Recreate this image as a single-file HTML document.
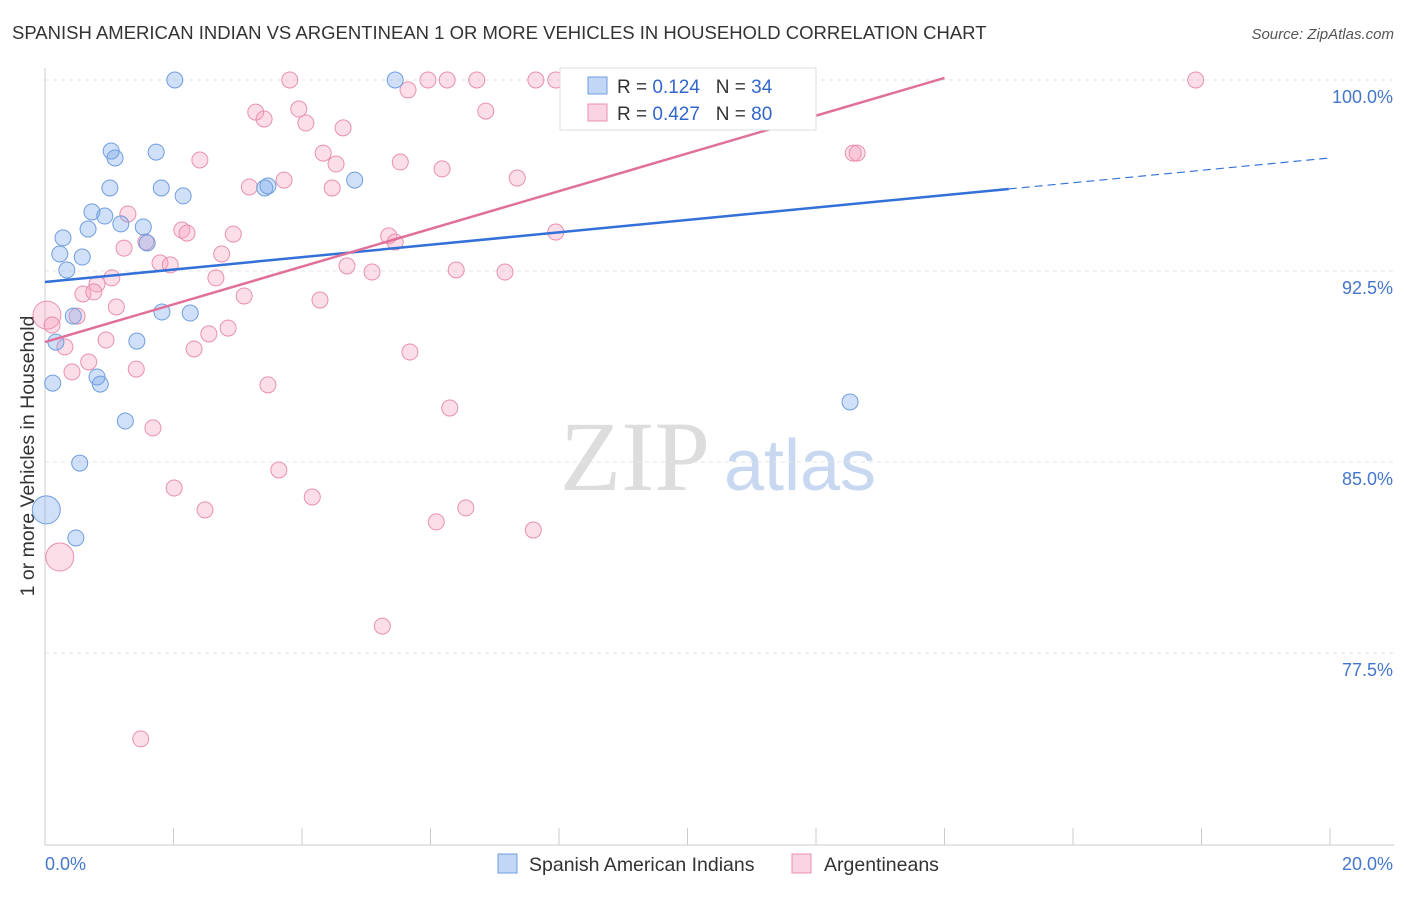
<!DOCTYPE html>
<html><head><meta charset="utf-8"><style>
body{margin:0;background:#fff;font-family:"Liberation Sans",sans-serif}
svg text{font-family:"Liberation Sans",sans-serif}
</style></head><body>
<svg id="c" width="1406" height="892">
<text x="12" y="39" font-size="18.5" fill="#333">SPANISH AMERICAN INDIAN VS ARGENTINEAN 1 OR MORE VEHICLES IN HOUSEHOLD CORRELATION CHART</text>
<text x="1394" y="39" font-size="15" fill="#555" font-style="italic" text-anchor="end">Source: ZipAtlas.com</text>
<text x="34" y="456" font-size="19.5" fill="#333" text-anchor="middle" transform="rotate(-90 34 456)">1 or more Vehicles in Household</text>
<g><text x="635" y="490" font-size="100" fill="#ddd" style="font-family:'Liberation Serif',serif" text-anchor="middle">ZIP</text><text x="800" y="490" font-size="72" fill="#c8d8f0" text-anchor="middle">atlas</text></g>
<g id="grid"></g><g id="axes"></g><g id="pts"></g><g id="lines"></g>
<g>
<rect x="560" y="68" width="256" height="62" fill="#fff" stroke="#ddd"/>
<rect x="588" y="77" width="19" height="17" fill="rgba(120,165,235,0.45)" stroke="#6f9ee0"/>
<text x="617" y="93" font-size="19" fill="#333" xml:space="preserve">R = <tspan fill="#3366cc">0.124</tspan>   N = <tspan fill="#3366cc">34</tspan></text>
<rect x="588" y="104" width="19" height="17" fill="rgba(245,160,190,0.45)" stroke="#e890b0"/>
<text x="617" y="120" font-size="19" fill="#333" xml:space="preserve">R = <tspan fill="#3366cc">0.427</tspan>   N = <tspan fill="#3366cc">80</tspan></text>
</g>
<g>
<rect x="498" y="854" width="19" height="19" fill="rgba(120,165,235,0.45)" stroke="#6f9ee0"/>
<text x="529" y="871" font-size="19.5" fill="#333">Spanish American Indians</text>
<rect x="792" y="854" width="19" height="19" fill="rgba(245,160,190,0.45)" stroke="#e890b0"/>
<text x="824" y="871" font-size="19.5" fill="#333">Argentineans</text>
</g>
</svg>
<script>
const xTicks=[0,2,4,6,8,10,12,14,16,18,20];
const yTicks=[100,92.5,85,77.5];
const yTickLabels=["100.0%","92.5%","85.0%","77.5%"];
const blueX=[2.02,5.45,1.03,1.73,1.09,1.01,1.81,2.15,4.82,3.42,3.47,0.73,0.93,0.67,1.18,1.53,0.28,1.59,0.23,0.58,0.34,1.82,2.26,0.44,0.17,1.43,0.12,0.81,0.86,1.25,0.54,12.53,0.02,0.48];
const blueY=[100,100,97.21,97.17,96.94,95.76,95.76,95.45,96.07,95.76,95.84,94.82,94.66,94.15,94.35,94.23,93.80,93.60,93.17,93.05,92.54,90.89,90.85,90.73,89.71,89.75,88.10,88.34,88.06,86.61,84.96,87.36,83.12,82.02];
const blueBig=[32];
const pinkX=[3.81,5.96,6.26,6.72,7.64,7.95,8.19,8.90,9.25,10.38,17.91,5.65,3.28,3.95,3.41,4.06,6.86,4.64,4.33,2.41,4.53,5.53,6.18,12.58,12.64,7.35,3.72,3.18,4.47,1.29,2.13,2.21,2.93,5.35,5.45,7.95,1.57,1.23,2.75,1.79,1.95,4.70,5.09,6.40,7.16,2.66,1.04,0.81,0.59,0.76,3.10,4.28,1.11,0.50,0.03,0.11,2.85,2.55,0.95,0.31,2.32,5.68,0.68,0.42,1.42,3.47,6.30,1.68,3.64,2.01,4.16,2.49,6.55,6.09,7.60,0.23,5.25,1.49];
const pinkY=[100,100,100,100,100,100,100,100,100,100,100,99.61,98.74,98.86,98.47,98.31,98.78,98.12,97.13,96.86,96.70,96.78,96.51,97.13,97.13,96.15,96.07,95.80,95.76,94.74,94.11,93.99,93.95,93.88,93.64,94.03,93.64,93.40,93.17,92.82,92.74,92.70,92.46,92.54,92.46,92.23,92.23,91.99,91.60,91.68,91.52,91.36,91.09,90.73,90.77,90.38,90.26,90.03,89.79,89.52,89.44,89.32,88.93,88.54,88.65,88.03,87.12,86.34,84.69,83.98,83.63,83.12,83.20,82.65,82.33,81.27,78.56,74.13];
const pinkBig=[54,75];
const blueTrend=[92.07,96.94];
const pinkTrend=[89.71,100.08,14];
const X=v=>45+v*64.25, Y=v=>80+(100-v)*25.47;
const NS="http://www.w3.org/2000/svg";
function mk(p,t,a){const e=document.createElementNS(NS,t);for(const k in a)e.setAttribute(k,a[k]);p.appendChild(e);return e;}
const grid=document.getElementById('grid'),axes=document.getElementById('axes'),pts=document.getElementById('pts'),lines=document.getElementById('lines');
yTicks.forEach((t,i)=>{
 const g=mk(grid,'line',{x1:45,x2:1394,y1:Y(t),y2:Y(t),stroke:'#e4e4e4','stroke-dasharray':'4,4'});
 
 
 const l=mk(axes,'text',{x:1393,y:Y(t)+23,'font-size':18,fill:'#4477cc','text-anchor':'end'});
 l.textContent=yTickLabels[i];
 
 
});
const ax=mk(axes,'line',{x1:45,x2:1394,y1:845,y2:845,stroke:'#ccc'});


const ay=mk(axes,'line',{x1:45,x2:45,y1:68,y2:845,stroke:'#ccc'});


xTicks.forEach(t=>{
 const k=mk(axes,'line',{x1:X(t),x2:X(t),y1:828,y2:845,stroke:'#ccc'});
 
 
});
const x0=mk(axes,'text',{x:45,y:870,'font-size':18,fill:'#4477cc'});x0.textContent=xTicks[0].toFixed(1)+'%';


const x1=mk(axes,'text',{x:1393,y:870,'font-size':18,fill:'#4477cc','text-anchor':'end'});x1.textContent=xTicks[xTicks.length-1].toFixed(1)+'%';


pinkX.forEach((v,i)=>{
 const c=mk(pts,'circle',{cx:X(v),cy:Y(pinkY[i]),r:pinkBig.includes(i)?14:8,fill:'rgba(245,160,190,0.35)',stroke:'#e890b0','stroke-width':1});
 
 
});
blueX.forEach((v,i)=>{
 const c=mk(pts,'circle',{cx:X(v),cy:Y(blueY[i]),r:blueBig.includes(i)?14:8,fill:'rgba(120,165,235,0.35)',stroke:'#6f9ee0','stroke-width':1});
 
 
});
const bs=(blueTrend[1]-blueTrend[0])/20, bx=15;
const b1=mk(lines,'line',{x1:X(0),y1:Y(blueTrend[0]),x2:X(bx),y2:Y(blueTrend[0]+bs*bx),stroke:'#3370d8','stroke-width':2.5});


const b2=mk(lines,'line',{x1:X(bx),y1:Y(blueTrend[0]+bs*bx),x2:X(20),y2:Y(blueTrend[1]),stroke:'#3370d8','stroke-width':1.2,'stroke-dasharray':'8,5'});


const p1=mk(lines,'line',{x1:X(0),y1:Y(pinkTrend[0]),x2:X(pinkTrend[2]),y2:Y(pinkTrend[1]),stroke:'#e0709a','stroke-width':2.5});


</script>
</body></html>
